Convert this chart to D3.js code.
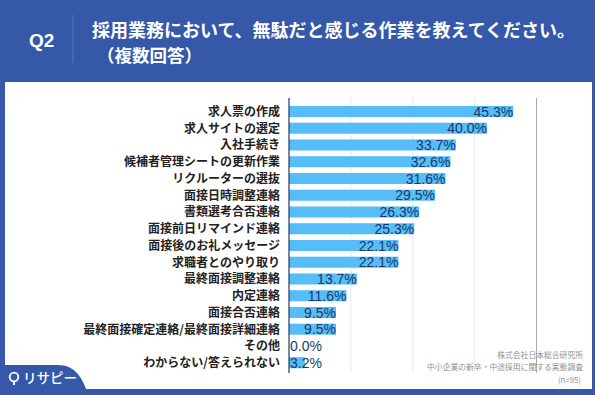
<!DOCTYPE html>
<html><head><meta charset="utf-8">
<script src="https://cdn.jsdelivr.net/npm/d3@7"></script>
<style>html,body{margin:0;padding:0;background:#3558a8;overflow:hidden}svg{display:block}</style>
</head><body>
<script>
const categories = ["求人票の作成","求人サイトの選定","入社手続き","候補者管理シートの更新作業","リクルーターの選抜","面接日時調整連絡","書類選考合否連絡","面接前日リマインド連絡","面接後のお礼メッセージ","求職者とのやり取り","最終面接調整連絡","内定連絡","面接合否連絡","最終面接確定連絡/最終面接詳細連絡","その他","わからない/答えられない"];
const values = [45.3,40.0,33.7,32.6,31.6,29.5,26.3,25.3,22.1,22.1,13.7,11.6,9.5,9.5,0.0,3.2];
const gridTicks = [12.5,25,37.5,50];
const titleLines = ["採用業務において、無駄だと感じる作業を教えてください。","（複数回答）"];
const qLabel = "Q2";
const notes = ["株式会社日本総合研究所","中小企業の新卒・中途採用に関する実態調査","(n=95)"];
const logoText = "リサピー";

const W=595,H=395, blue="#3558a8";
const svg=d3.select("body").append("svg").attr("width",W).attr("height",H);
svg.append("rect").attr("width",W).attr("height",H).attr("fill",blue);
svg.append("rect").attr("x",5).attr("y",82).attr("width",587).attr("height",307).attr("fill","#fff");

// header
const jp="'Noto Sans CJK JP','Noto Sans',sans-serif";
svg.append("text").attr("x",29).attr("y",47).text(qLabel).attr("fill","#fff")
  .attr("font-family","'Liberation Sans',Arial,sans-serif").attr("font-weight","bold").attr("font-size",19);
svg.append("line").attr("x1",73).attr("x2",73).attr("y1",15).attr("y2",63).attr("stroke","#5a78bb").attr("stroke-width",1);
svg.selectAll("text.title").data(titleLines).join("text").attr("class","title")
  .attr("x",(d,i)=>i===0?92:97).attr("y",(d,i)=>i===0?36.5:62).text(d=>d)
  .attr("fill","#fff").attr("font-family",jp).attr("font-weight","bold").attr("font-size",(d,i)=>i===0?18:17.5);

// scales
const x=d3.scaleLinear().domain([0,50]).range([289,536.5]);
const y=d3.scaleBand().domain(categories).range([103.1,371.1]).paddingInner(0.34).paddingOuter(0.17);

// grid
svg.selectAll("line.grid").data(gridTicks).join("line").attr("class","grid")
  .attr("x1",d=>x(d)).attr("x2",d=>x(d)).attr("y1",98).attr("y2",373)
  .attr("stroke",d=>d===50?"#a8a8a8":"#e8e8e8").attr("stroke-width",1);

// bars
svg.selectAll("rect.bar").data(values).join("rect").attr("class","bar")
  .attr("x",x(0)).attr("y",(d,i)=>y(categories[i])).attr("width",d=>x(d)-x(0))
  .attr("height",y.bandwidth()).attr("fill","#56bdf8");

// axis
svg.append("line").attr("x1",x(0)).attr("x2",x(0)).attr("y1",98).attr("y2",373).attr("stroke","#1f3a66").attr("stroke-width",1.2);

// category labels
svg.selectAll("text.cat").data(categories).join("text").attr("class","cat")
  .attr("x",280).attr("y",d=>y(d)+y.bandwidth()/2).attr("dy","0.36em").attr("text-anchor","end")
  .text(d=>d).attr("fill","#222").attr("font-family",jp).attr("font-weight","bold").attr("font-size",12);

// value labels
const vl=svg.selectAll("text.val").data(values).join("text").attr("class","val")
  .attr("y",(d,i)=>y(categories[i])+y.bandwidth()/2).attr("dy","0.37em")
  .text(d=>d.toFixed(1)+"%").attr("fill","#183a6a")
  .attr("font-family","'Liberation Sans',Arial,sans-serif").attr("font-size",14);
vl.each(function(d){
  const w=this.getComputedTextLength();
  const end=x(d);
  if(end-w>=x(0)+1){d3.select(this).attr("x",end).attr("text-anchor","end");}
  else{d3.select(this).attr("x",x(0)+1).attr("text-anchor","start");}
});

// notes
svg.selectAll("text.note").data(notes).join("text").attr("class","note")
  .attr("x",(d,i)=>i===2?581:583).attr("y",(d,i)=>358+i*12.3).attr("text-anchor","end")
  .text(d=>d).attr("fill","#8f8f8f").attr("font-family",jp).attr("font-size",7.8);

// bottom-left tab with logo
svg.append("path").attr("d","M0,395 V365 H58 C74,365 81,376 86,389 V395 Z").attr("fill",blue);
svg.append("circle").attr("cx",14).attr("cy",377).attr("r",4.3).attr("fill","none").attr("stroke","#fff").attr("stroke-width",1.8);
svg.append("line").attr("x1",14).attr("x2",14).attr("y1",381).attr("y2",385).attr("stroke","#fff").attr("stroke-width",1.8);
svg.append("text").attr("x",23).attr("y",383).text(logoText).attr("fill","#fff")
  .attr("font-family",jp).attr("font-size",13.5).attr("font-weight","500");
</script>
</body></html>
